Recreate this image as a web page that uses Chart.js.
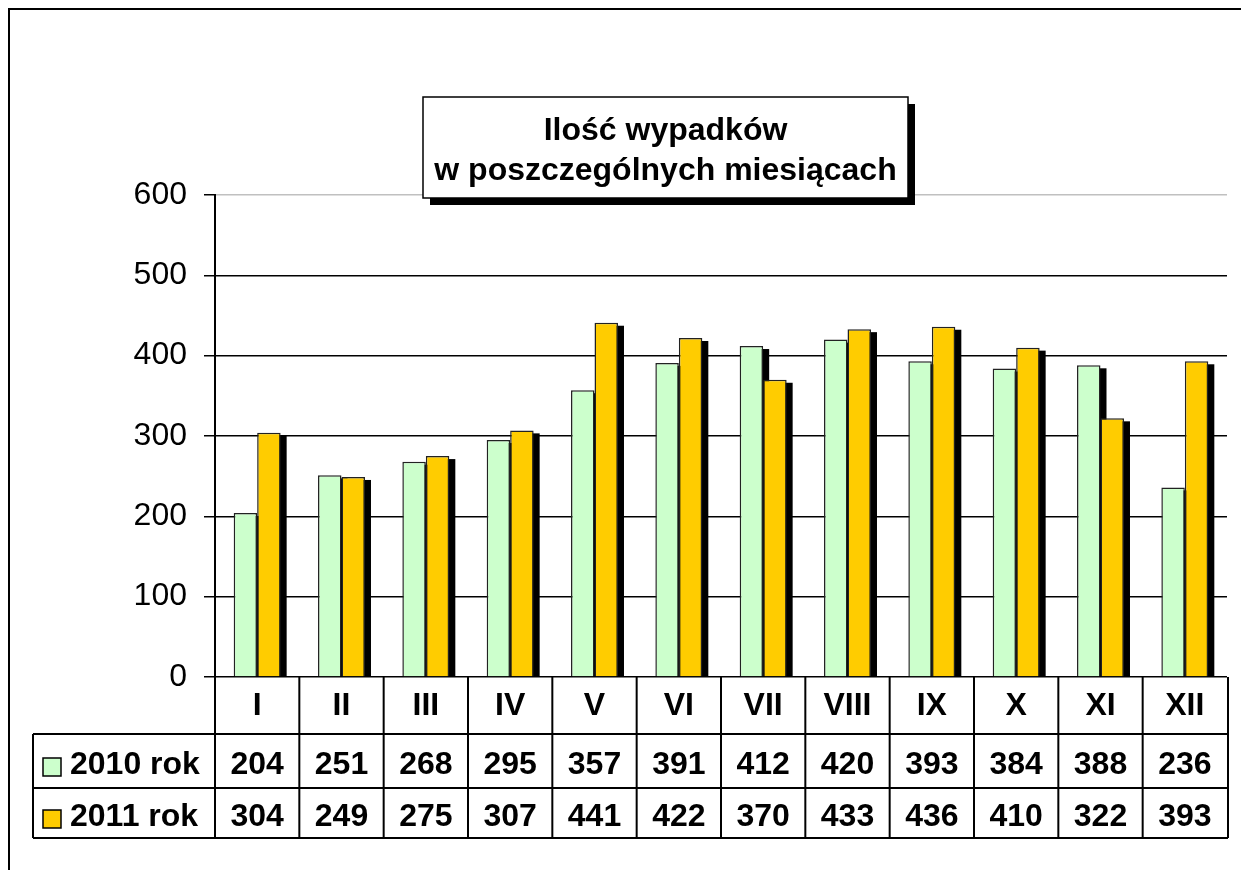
<!DOCTYPE html>
<html>
<head>
<meta charset="utf-8">
<script src="https://cdn.jsdelivr.net/npm/chart.js@4/dist/chart.umd.min.js"></script>
<style>
html,body{margin:0;padding:0;background:#fff;}
#wrap{width:1241px;height:870px;position:relative;}
</style>
</head>
<body>
<div id="wrap"><canvas id="c"></canvas></div>
<script>
const months = ["I","II","III","IV","V","VI","VII","VIII","IX","X","XI","XII"];
const series2010 = [204,251,268,295,357,391,412,420,393,384,388,236];
const series2011 = [304,249,275,307,441,422,370,433,436,410,322,393];
const seriesNames = ["2010 rok","2011 rok"];
const seriesColors = ["#CCFFCC","#FFCC00"];
const titleLines = ["Ilość wypadków","w poszczególnych miesiącach"];
const yTicks = [0,100,200,300,400,500,600];

const FONT = '"Liberation Sans", Arial, sans-serif';

const shadowPlugin = {
  id: 'barShadow',
  beforeDatasetsDraw(chart) {
    const ctx = chart.ctx, a = chart.chartArea;
    ctx.save();
    ctx.beginPath();
    ctx.rect(a.left, a.top, a.right - a.left, a.bottom - a.top);
    ctx.clip();
    ctx.fillStyle = '#000';
    chart.data.datasets.forEach((ds, i) => {
      const meta = chart.getDatasetMeta(i);
      meta.data.forEach(el => {
        const w = el.width;
        ctx.fillRect(el.x - w / 2 + 6, el.y + 3, w, el.base - el.y);
      });
    });
    ctx.restore();
  }
};

const framePlugin = {
  id: 'frame',
  beforeDraw(chart) {
    const ctx = chart.ctx;
    ctx.save();
    ctx.fillStyle = '#fff';
    ctx.fillRect(0, 0, chart.width, chart.height);
    ctx.strokeStyle = '#000';
    ctx.lineWidth = 2;
    ctx.beginPath();
    ctx.moveTo(9, chart.height + 2);
    ctx.lineTo(9, 9);
    ctx.lineTo(chart.width + 2, 9);
    ctx.stroke();
    ctx.restore();
  },
  afterDraw(chart) {
    const ctx = chart.ctx;
    const x = chart.scales.x, a = chart.chartArea;
    ctx.save();
    // data table
    const top = a.bottom, r1 = 734, r2 = 788, r3 = 838, tl = 33;
    const cw = (a.right - a.left) / months.length;
    const right = a.right + 1;
    ctx.strokeStyle = '#000';
    ctx.lineWidth = 2;
    ctx.beginPath();
    [r1, r2, r3].forEach(yy => { ctx.moveTo(tl, yy); ctx.lineTo(right, yy); });
    ctx.moveTo(tl, r1); ctx.lineTo(tl, r3);
    for (let i = 0; i <= months.length; i++) {
      const xx = i === months.length ? right : a.left + i * cw;
      ctx.moveTo(xx, top); ctx.lineTo(xx, r3);
    }
    ctx.stroke();
    ctx.fillStyle = '#000';
    ctx.textAlign = 'center';
    ctx.textBaseline = 'middle';
    ctx.font = 'bold 32px ' + FONT;
    months.forEach((m, i) => {
      const cx = x.getPixelForValue(i);
      ctx.fillText(m, cx, 706);
      ctx.fillText(String(series2010[i]), cx, 765);
      ctx.fillText(String(series2011[i]), cx, 817);
    });
    // legend keys
    const rowsY = [767, 819];
    seriesNames.forEach((n, i) => {
      ctx.fillStyle = seriesColors[i];
      ctx.fillRect(43, rowsY[i] - 9, 18, 18);
      ctx.strokeStyle = '#000';
      ctx.lineWidth = 1.5;
      ctx.strokeRect(43, rowsY[i] - 9, 18, 18);
      ctx.fillStyle = '#000';
      ctx.textAlign = 'left';
      ctx.fillText(n, 70, rowsY[i] - 2);
    });
    // title box
    const bx = 423, by = 97, bw = 485, bh = 101;
    ctx.fillStyle = '#000';
    ctx.fillRect(bx + 7, by + 7, bw, bh);
    ctx.fillStyle = '#fff';
    ctx.fillRect(bx, by, bw, bh);
    ctx.strokeStyle = '#000';
    ctx.lineWidth = 1.5;
    ctx.strokeRect(bx, by, bw, bh);
    ctx.fillStyle = '#000';
    ctx.textAlign = 'center';
    ctx.font = 'bold 32px ' + FONT;
    ctx.fillText(titleLines[0], bx + bw / 2, 131);
    ctx.fillText(titleLines[1], bx + bw / 2, 171);
    ctx.restore();
  }
};

new Chart(document.getElementById('c'), {
  type: 'bar',
  data: {
    labels: months,
    datasets: [
      { label: seriesNames[0], data: series2010, backgroundColor: seriesColors[0], borderColor: '#222', borderWidth: 1.5 },
      { label: seriesNames[1], data: series2011, backgroundColor: seriesColors[1], borderColor: '#222', borderWidth: 1.5 }
    ]
  },
  options: {
    responsive: true,
    maintainAspectRatio: false,
    animation: false,
    devicePixelRatio: 1,
    layout: { padding: { left: 0, right: 14, top: 195, bottom: 193 } },
    datasets: { bar: { barPercentage: 1, categoryPercentage: 0.557 } },
    plugins: { legend: { display: false }, title: { display: false }, tooltip: { enabled: false } },
    scales: {
      x: { display: false },
      y: {
        min: 0, max: 600,
        afterFit(s) { s.width = 215; },
        afterBuildTicks(s) { s.ticks = yTicks.map(v => ({ value: v })); },
        ticks: { color: '#000', font: { family: FONT, size: 32 }, padding: 17 },
        grid: {
          color: ctx => (ctx.tick && ctx.tick.value === 600) ? '#c0c0c0' : '#000',
          lineWidth: 1.5,
          tickLength: 11,
          tickColor: '#000'
        },
        border: { display: true, color: '#000', width: 2 }
      }
    }
  },
  plugins: [framePlugin, shadowPlugin]
});
</script>
</body>
</html>
